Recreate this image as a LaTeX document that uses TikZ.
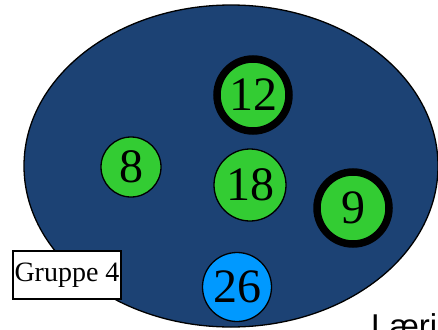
\documentclass[tikz,border=0pt]{standalone}
\usepackage{fontspec}
\setmainfont{Liberation Serif}
\newfontfamily\labsans{Liberation Sans}
\usetikzlibrary{shapes.geometric}
\definecolor{setblue}{HTML}{1C4274}
\definecolor{nodegreen}{HTML}{33CC33}
\definecolor{nodeblue}{HTML}{0099FF}
\tikzset{
  elem/.style={circle, draw=black, line width=1.3pt, fill=nodegreen, inner sep=0pt,
    font=\fontsize{48}{48}\selectfont},
  marked/.style={elem, line width=7.5pt},
  special/.style={elem, fill=nodeblue},
  tag/.style={draw=black, line width=1.2pt, fill=white, inner sep=0pt,
    minimum width=108pt, minimum height=48pt, font=\fontsize{28}{28}\selectfont}
}
\begin{document}
\begin{tikzpicture}[x=1pt,y=-1pt]
\useasboundingbox (0,0) rectangle (438,329);
\clip (0,0) rectangle (438,329);
\node[ellipse, draw=black, line width=1.3pt, fill=setblue, minimum width=414pt, minimum height=322pt, inner sep=0pt] (set) at (231,166) {};
\node[marked, minimum size=72pt] (n12) at (253,95) {12};
\node[elem, minimum size=60pt] (n8) at (131,167) {8};
\node[elem, minimum size=72pt] (n18) at (250,185) {18};
\node[marked, minimum size=72pt] (n9) at (353,208) {9};
\node[special, minimum size=69pt] (n26) at (237,287) {26};
\node[tag] (g4) at (67,275) {Gruppe 4};
\node[anchor=base west, inner sep=0pt, font=\labsans\fontsize{33}{33}\selectfont] (lbl) at (371,337) {Læri};
\end{tikzpicture}
\end{document}
